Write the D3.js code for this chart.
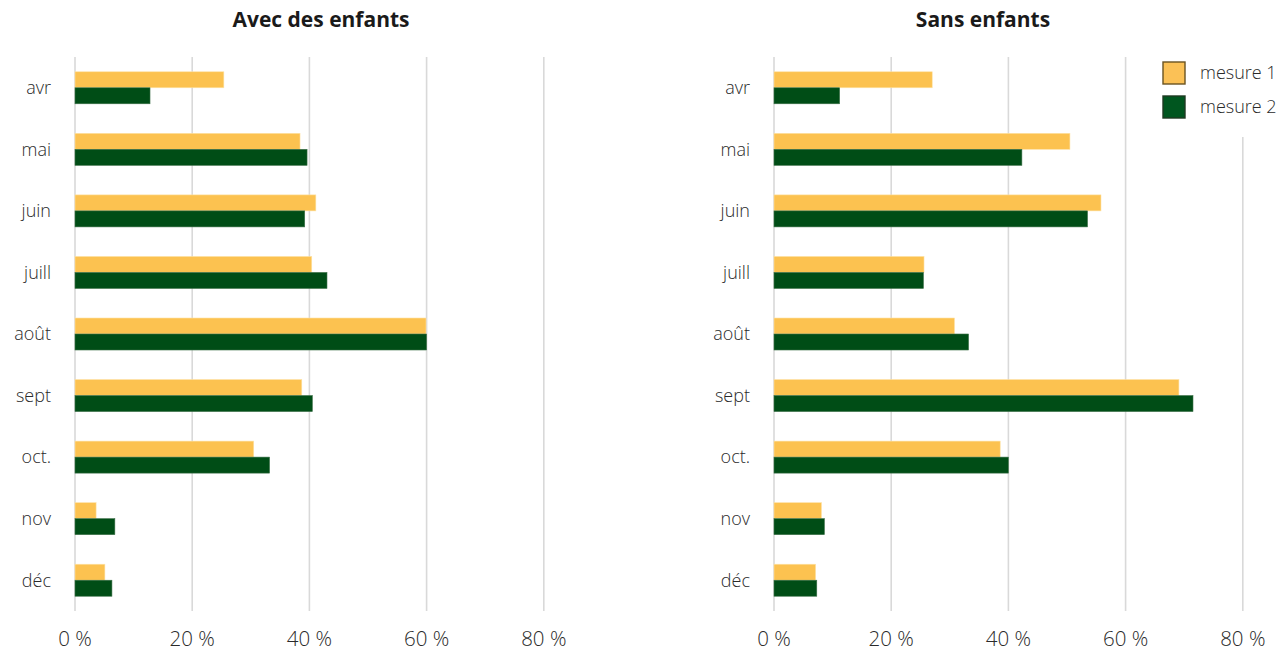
<!DOCTYPE html>
<html>
<head>
<meta charset="utf-8">
<script src="https://cdn.jsdelivr.net/npm/d3@7"></script>
<style>
  html, body { margin: 0; padding: 0; background: #fff; }
  svg { display: block; }
  text { font-family: "Open Sans", "Noto Sans", sans-serif; }
</style>
</head>
<body>
<svg id="chart" width="1288" height="651"></svg>
<script>
const months = ["avr", "mai", "juin", "juill", "août", "sept", "oct.", "nov", "déc"];
const seriesNames = ["mesure 1", "mesure 2"];
const panelTitles = ["Avec des enfants", "Sans enfants"];
const tickValues = [0, 20, 40, 60, 80];
const tickLabels = ["0 %", "20 %", "40 %", "60 %", "80 %"];

const avecMesure1 = [25.4, 38.4, 41.1, 40.4, 59.9, 38.7, 30.5, 3.6, 5.1];
const avecMesure2 = [12.8, 39.6, 39.2, 43.0, 60.0, 40.5, 33.2, 6.8, 6.3];
const sansMesure1 = [27.0, 50.5, 55.8, 25.6, 30.8, 69.1, 38.6, 8.1, 7.1];
const sansMesure2 = [11.2, 42.3, 53.5, 25.5, 33.2, 71.5, 40.0, 8.6, 7.3];

const colors = { "mesure 1": "#FCC250", "mesure 2": "#004D16" };
const strokes = { "mesure 1": "#FDE2A6", "mesure 2": "#3C7048" };
const legendFill = { "mesure 1": "#FBC156", "mesure 2": "#00561F" };
const legendStrokes = { "mesure 1": "#6A5322", "mesure 2": "#1E3A22" };

const svg = d3.select("#chart");

const panels = [
  { title: panelTitles[0], titleX: 321, x0: 75, data: [avecMesure1, avecMesure2], legend: false },
  { title: panelTitles[1], titleX: 983, x0: 774, data: [sansMesure1, sansMesure2], legend: true }
];

const yTop = 57, yBottom = 611;
const y = d3.scaleBand().domain(months).range([yTop, yBottom]).paddingInner(0.48).paddingOuter(0.24);
const ySub = d3.scaleBand().domain(seriesNames).range([0, y.bandwidth()]);

panels.forEach((p) => {
  const x = d3.scaleLinear().domain([0, 80]).range([p.x0, p.x0 + 80 * 5.86]);
  const g = svg.append("g");

  g.append("text")
    .attr("x", p.titleX).attr("y", 27)
    .attr("text-anchor", "middle")
    .attr("font-size", 21).attr("font-weight", 700)
    .attr("fill", "#1a1a1a")
    .text(p.title);

  g.selectAll("line.grid").data(tickValues).join("line")
    .attr("class", "grid")
    .attr("x1", d => x(d)).attr("x2", d => x(d))
    .attr("y1", d => (p.legend && d === 80) ? 137 : yTop)
    .attr("y2", yBottom)
    .attr("stroke", "#d9d9d9").attr("stroke-width", 1.6);

  g.selectAll("text.tick").data(tickValues).join("text")
    .attr("class", "tick")
    .attr("x", d => x(d)).attr("y", 646)
    .attr("text-anchor", "middle")
    .attr("font-size", 20.5).attr("font-weight", 300).attr("fill", "#2a2a2a")
    .text((d, i) => tickLabels[i]);

  g.selectAll("text.cat").data(months).join("text")
    .attr("class", "cat")
    .attr("x", p.x0 - 24)
    .attr("y", d => y(d) + y.bandwidth() / 2)
    .attr("dy", "0.35em")
    .attr("text-anchor", "end")
    .attr("font-size", 18).attr("font-weight", 300).attr("fill", "#2a2a2a")
    .text(d => d);

  seriesNames.forEach((s, si) => {
    const vals = p.data[si];
    g.selectAll("rect.s" + si).data(months).join("rect")
      .attr("class", "s" + si)
      .attr("x", x(0))
      .attr("y", d => y(d) + ySub(s))
      .attr("width", (d, i) => x(vals[i]) - x(0))
      .attr("height", ySub.bandwidth())
      .attr("fill", colors[s])
      .attr("stroke", strokes[s]).attr("stroke-width", 0.6);
  });

  if (p.legend) {
    const lg = g.append("g");
    const ly = d3.scaleBand().domain(seriesNames).range([61, 129]);
    seriesNames.forEach(s => {
      lg.append("rect")
        .attr("x", 1163).attr("y", ly(s) + 1)
        .attr("width", 22).attr("height", 22)
        .attr("fill", legendFill[s])
        .attr("stroke", legendStrokes[s]).attr("stroke-width", 1.4);
      lg.append("text")
        .attr("x", 1200).attr("y", ly(s) + 12)
        .attr("dy", "0.35em")
        .attr("font-size", 18).attr("font-weight", 300).attr("fill", "#2a2a2a")
        .text(s);
    });
  }
});
</script>
</body>
</html>
